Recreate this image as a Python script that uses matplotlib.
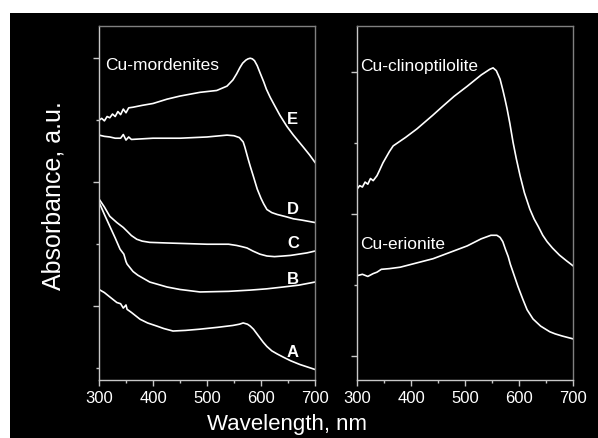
import matplotlib.pyplot as plt
from matplotlib.ticker import MultipleLocator, NullFormatter
from matplotlib.patches import Rectangle

plt.rcParams['font.family'] = ['Liberation Sans', 'DejaVu Sans']

# Cu-mordenites (left panel), offset spectra
wl_E = [300, 305, 310, 315, 320, 325, 330, 335, 340, 345, 350, 355, 363, 380, 400, 426, 450, 487, 518, 537, 548, 555, 561, 566, 572, 576, 580, 584, 588, 593, 598, 605, 610, 617, 625, 635, 648, 660, 678, 690, 700]
ab_E = [4.00, 4.03, 3.99, 4.06, 4.04, 4.10, 4.06, 4.14, 4.09, 4.18, 4.12, 4.20, 4.21, 4.24, 4.27, 4.34, 4.39, 4.45, 4.48, 4.55, 4.65, 4.75, 4.85, 4.92, 4.97, 4.99, 5.00, 4.99, 4.96, 4.88, 4.77, 4.62, 4.50, 4.37, 4.24, 4.08, 3.90, 3.76, 3.57, 3.44, 3.32]

wl_D = [300, 310, 320, 330, 340, 345, 350, 355, 360, 400, 450, 500, 537, 550, 560, 563, 567, 570, 576, 580, 585, 593, 600, 605, 611, 620, 630, 648, 660, 675, 700]
ab_D = [3.76, 3.74, 3.73, 3.71, 3.71, 3.77, 3.68, 3.73, 3.69, 3.71, 3.71, 3.73, 3.76, 3.75, 3.72, 3.69, 3.65, 3.57, 3.38, 3.26, 3.12, 2.89, 2.74, 2.65, 2.56, 2.51, 2.48, 2.44, 2.41, 2.39, 2.35]

wl_C = [300, 310, 320, 333, 345, 352, 360, 370, 380, 394, 426, 500, 540, 555, 565, 574, 585, 598, 611, 625, 641, 655, 670, 685, 700]
ab_C = [2.73, 2.60, 2.45, 2.35, 2.27, 2.21, 2.14, 2.08, 2.05, 2.03, 2.02, 2.00, 2.00, 1.98, 1.96, 1.94, 1.89, 1.84, 1.81, 1.80, 1.81, 1.82, 1.84, 1.86, 1.89]

wl_B = [300, 310, 320, 330, 339, 346, 350, 352, 363, 372, 380, 394, 410, 426, 450, 487, 540, 580, 610, 641, 670, 700]
ab_B = [2.68, 2.48, 2.29, 2.10, 1.92, 1.84, 1.72, 1.68, 1.56, 1.50, 1.46, 1.39, 1.35, 1.31, 1.27, 1.23, 1.24, 1.26, 1.28, 1.31, 1.34, 1.39]

wl_A = [300, 310, 320, 333, 340, 345, 350, 352, 360, 376, 390, 407, 420, 437, 460, 487, 520, 548, 560, 567, 575, 580, 586, 592, 598, 604, 611, 620, 630, 641, 655, 672, 686, 700]
ab_A = [1.27, 1.22, 1.15, 1.06, 1.04, 0.97, 1.02, 0.95, 0.90, 0.79, 0.73, 0.68, 0.64, 0.60, 0.61, 0.63, 0.66, 0.69, 0.71, 0.73, 0.71, 0.68, 0.63, 0.56, 0.49, 0.42, 0.35, 0.28, 0.23, 0.18, 0.12, 0.06, 0.02, -0.02]

# right panel
wl_clino = [300, 305, 310, 315, 320, 325, 330, 337, 342, 348, 354, 360, 367, 390, 411, 440, 459, 480, 504, 530, 546, 552, 558, 565, 570, 574, 578, 583, 589, 595, 602, 610, 620, 628, 636, 644, 652, 662, 675, 688, 700]
ab_clino = [3.35, 3.40, 3.38, 3.45, 3.42, 3.50, 3.47, 3.54, 3.62, 3.72, 3.80, 3.88, 3.96, 4.08, 4.20, 4.39, 4.52, 4.66, 4.80, 4.96, 5.04, 5.06, 5.02, 4.90, 4.75, 4.62, 4.48, 4.28, 4.01, 3.78, 3.54, 3.30, 3.07, 2.93, 2.82, 2.70, 2.61, 2.52, 2.42, 2.34, 2.27]

wl_eri = [300, 310, 320, 330, 337, 345, 360, 380, 441, 504, 530, 548, 559, 565, 570, 575, 580, 584, 589, 598, 607, 615, 626, 640, 657, 667, 680, 700]
ab_eri = [2.13, 2.15, 2.12, 2.16, 2.18, 2.22, 2.23, 2.25, 2.37, 2.55, 2.65, 2.70, 2.70, 2.67, 2.61, 2.50, 2.40, 2.29, 2.18, 1.98, 1.80, 1.65, 1.52, 1.42, 1.34, 1.31, 1.28, 1.24]

labels = ['A', 'B', 'C', 'D', 'E']
label_y = [0.27, 1.45, 2.02, 2.58, 4.03]

fig = plt.figure(figsize=(5.98, 4.39), dpi=100, facecolor='white')
fig.patches.append(Rectangle((10/598, 0), 588/598, 425/439, transform=fig.transFigure,
                             facecolor='black', edgecolor='none', zorder=-10))

ax1 = fig.add_axes([99/598, 58/439, 216/598, 354/439])
ax2 = fig.add_axes([357/598, 58/439, 216/598, 354/439])

for ax in (ax1, ax2):
    ax.set_facecolor('black')
    ax.set_xlim(300, 700)
    ax.xaxis.set_major_locator(MultipleLocator(100))
    ax.xaxis.set_minor_locator(MultipleLocator(50))
    ax.yaxis.set_major_locator(MultipleLocator(2, offset=1))
    ax.yaxis.set_minor_locator(MultipleLocator(2))
    ax.yaxis.set_major_formatter(NullFormatter())
    ax.tick_params(which='both', direction='out', colors='#c8c8c8', labelcolor='white', labelsize=12)
    ax.tick_params(which='major', length=4, width=1)
    ax.tick_params(which='minor', length=2.5, width=1)
    ax.spines['left'].set_color('#c8c8c8')
    ax.spines['bottom'].set_color('#c8c8c8')
    ax.spines['top'].set_color('#808080')
    ax.spines['right'].set_color('#808080')
    for s in ax.spines.values():
        s.set_linewidth(1)

ax1.set_ylim(-0.19, 5.52)
ax2.set_ylim(0.66, 5.65)

for wl, ab in [(wl_A, ab_A), (wl_B, ab_B), (wl_C, ab_C), (wl_D, ab_D), (wl_E, ab_E)]:
    ax1.plot(wl, ab, color='white', lw=1.2)
for lab, yy in zip(labels, label_y):
    ax1.text(659, yy, lab, color='white', fontsize=12, fontweight='bold', ha='center', va='center')
ax1.text(311, 4.9, 'Cu-mordenites', color='white', fontsize=12.5, ha='left', va='center')

ax2.plot(wl_clino, ab_clino, color='white', lw=1.2)
ax2.plot(wl_eri, ab_eri, color='white', lw=1.2)
ax2.text(306, 5.10, 'Cu-clinoptilolite', color='white', fontsize=12.5, ha='left', va='center')
ax2.text(306, 2.58, 'Cu-erionite', color='white', fontsize=12.5, ha='left', va='center')

fig.text(287/598, 1 - 425/439, 'Wavelength, nm', color='white', fontsize=16, ha='center', va='center')
fig.text(54/598, 1 - 196/439, 'Absorbance, a.u.', color='white', fontsize=18, rotation=90, ha='center', va='center')

fig.savefig('out.png', dpi=100, facecolor='white')
